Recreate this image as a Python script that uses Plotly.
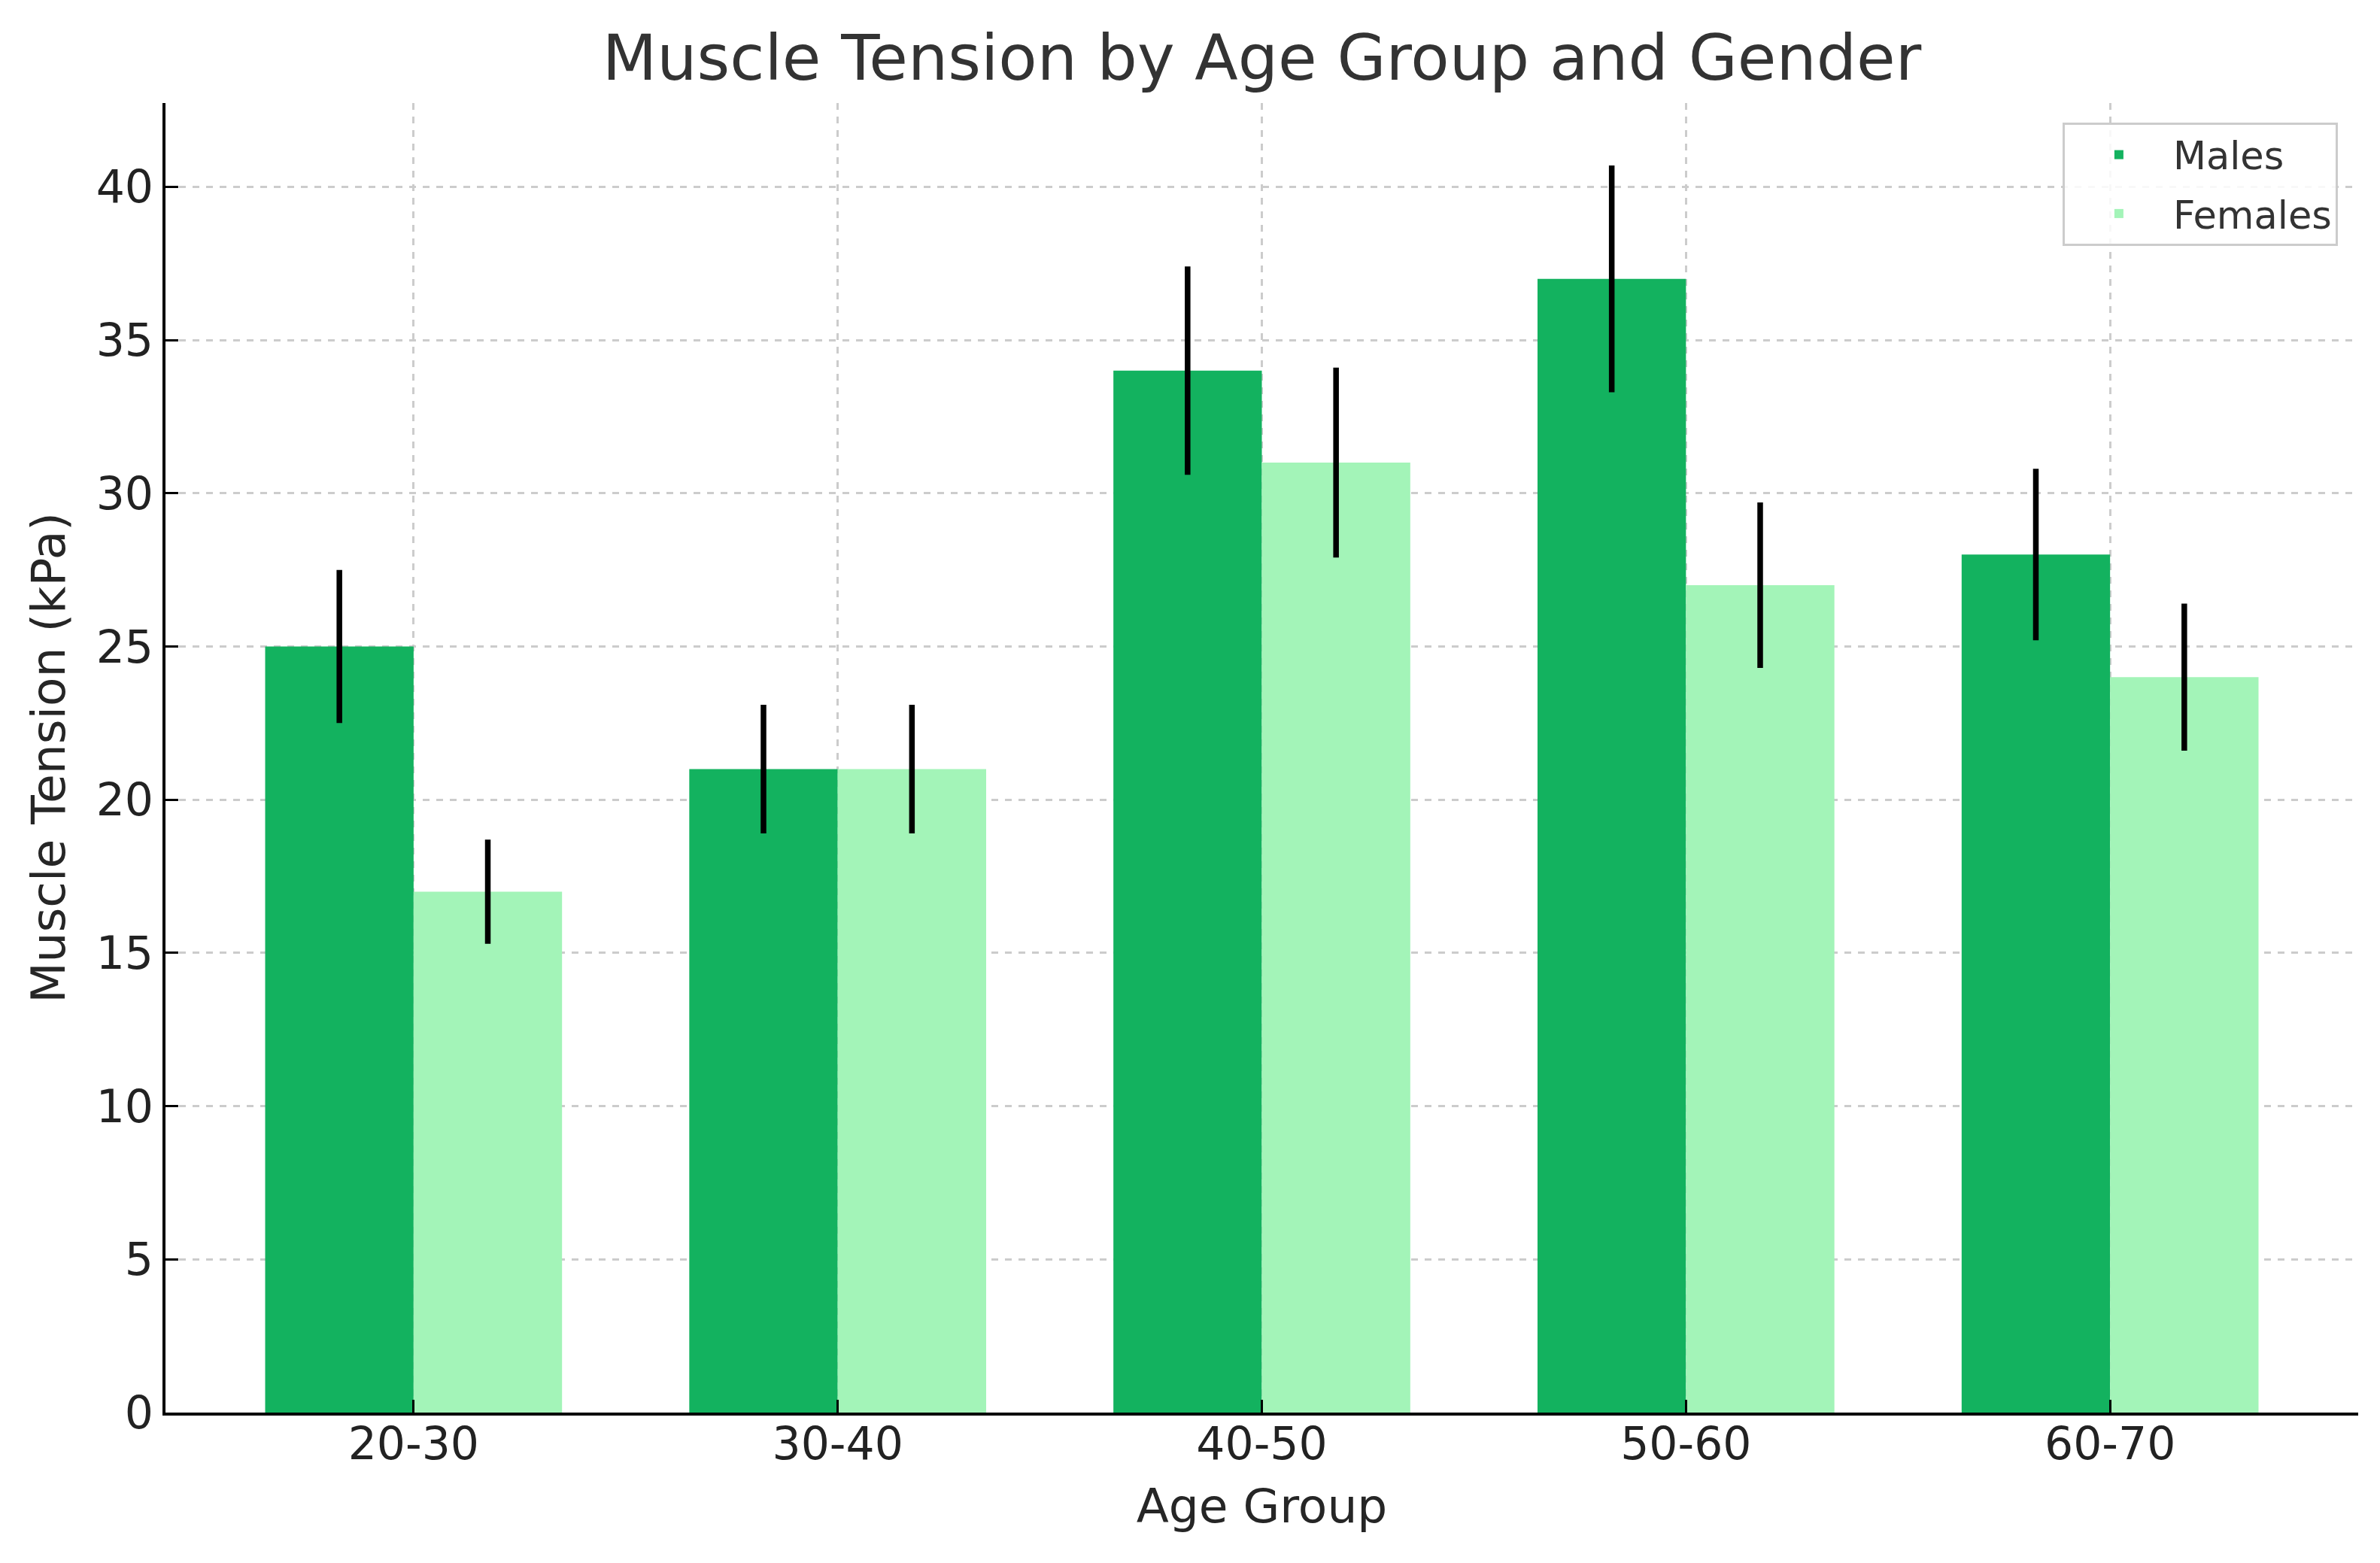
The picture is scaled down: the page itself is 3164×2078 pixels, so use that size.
import plotly.graph_objects as go

age_groups = ["20-30", "30-40", "40-50", "50-60", "60-70"]
males = [25, 21, 34, 37, 28]
females = [17, 21, 31, 27, 24]
males_err = [2.5, 2.1, 3.4, 3.7, 2.8]
females_err = [1.7, 2.1, 3.1, 2.7, 2.4]

MALE_COLOR = "#13B25F"
FEMALE_COLOR = "#A3F4B8"
FONT = "DejaVu Sans"

W, H = 3148, 2062

fig = go.Figure()
fig.add_trace(go.Bar(
    name="Males", x=age_groups, y=males, marker_color=MALE_COLOR,
    marker_line_width=0, offset=-0.35, width=0.35, legendgroup="m",
    error_y=dict(type="data", array=males_err, color="black", thickness=7.5, width=0),
))
fig.add_trace(go.Bar(
    name="Females", x=age_groups, y=females, marker_color=FEMALE_COLOR,
    marker_line_width=0, offset=0.0, width=0.35, legendgroup="f",
    error_y=dict(type="data", array=females_err, color="black", thickness=7.5, width=0),
))

fig.update_layout(
    width=W, height=H,
    margin=dict(l=212, r=21, t=129, b=192),
    paper_bgcolor="white", plot_bgcolor="white",
    font=dict(family=FONT, size=60, color="#222222"),
    title=dict(text="Muscle Tension by Age Group and Gender", x=0.5, xref="paper",
               y=1 - 69 / H, yref="container", xanchor="center", yanchor="middle",
               font=dict(family=FONT, size=84, color="#333333")),
    barmode="group",
    showlegend=True,
    legend=dict(x=0.9907, y=0.9851, xanchor="right", yanchor="top",
                bgcolor="rgba(255,255,255,0.85)", bordercolor="#cccccc", borderwidth=3,
                font=dict(family=FONT, size=51, color="#333333"),
                itemwidth=134, entrywidth=240, entrywidthmode="pixels",
                traceorder="grouped", tracegroupgap=9),
)

fig.update_xaxes(
    type="category", range=[-0.585, 4.585],
    showline=True, linecolor="black", linewidth=4, mirror=False,
    ticks="inside", ticklen=17, tickwidth=3, tickcolor="black",
    ticklabelstandoff=-14,
    showgrid=True, gridcolor="#cccccc", gridwidth=2.5, griddash="dash",
    tickfont=dict(family=FONT, size=60, color="#222222"),
    title=dict(text="Age Group", font=dict(family=FONT, size=63, color="#262626"), standoff=28),
    zeroline=False,
)
fig.update_yaxes(
    range=[0, 42.735], tickmode="array", tickvals=[0, 5, 10, 15, 20, 25, 30, 35, 40],
    showline=True, linecolor="black", linewidth=4,
    ticks="inside", ticklen=17, tickwidth=3, tickcolor="black",
    showgrid=True, gridcolor="#cccccc", gridwidth=2.5, griddash="dash",
    tickfont=dict(family=FONT, size=60, color="#222222"),
    title=dict(text="Muscle Tension (kPa)", font=dict(family=FONT, size=63, color="#262626"), standoff=22),
    zeroline=False,
)

fig.write_html("out.html")
